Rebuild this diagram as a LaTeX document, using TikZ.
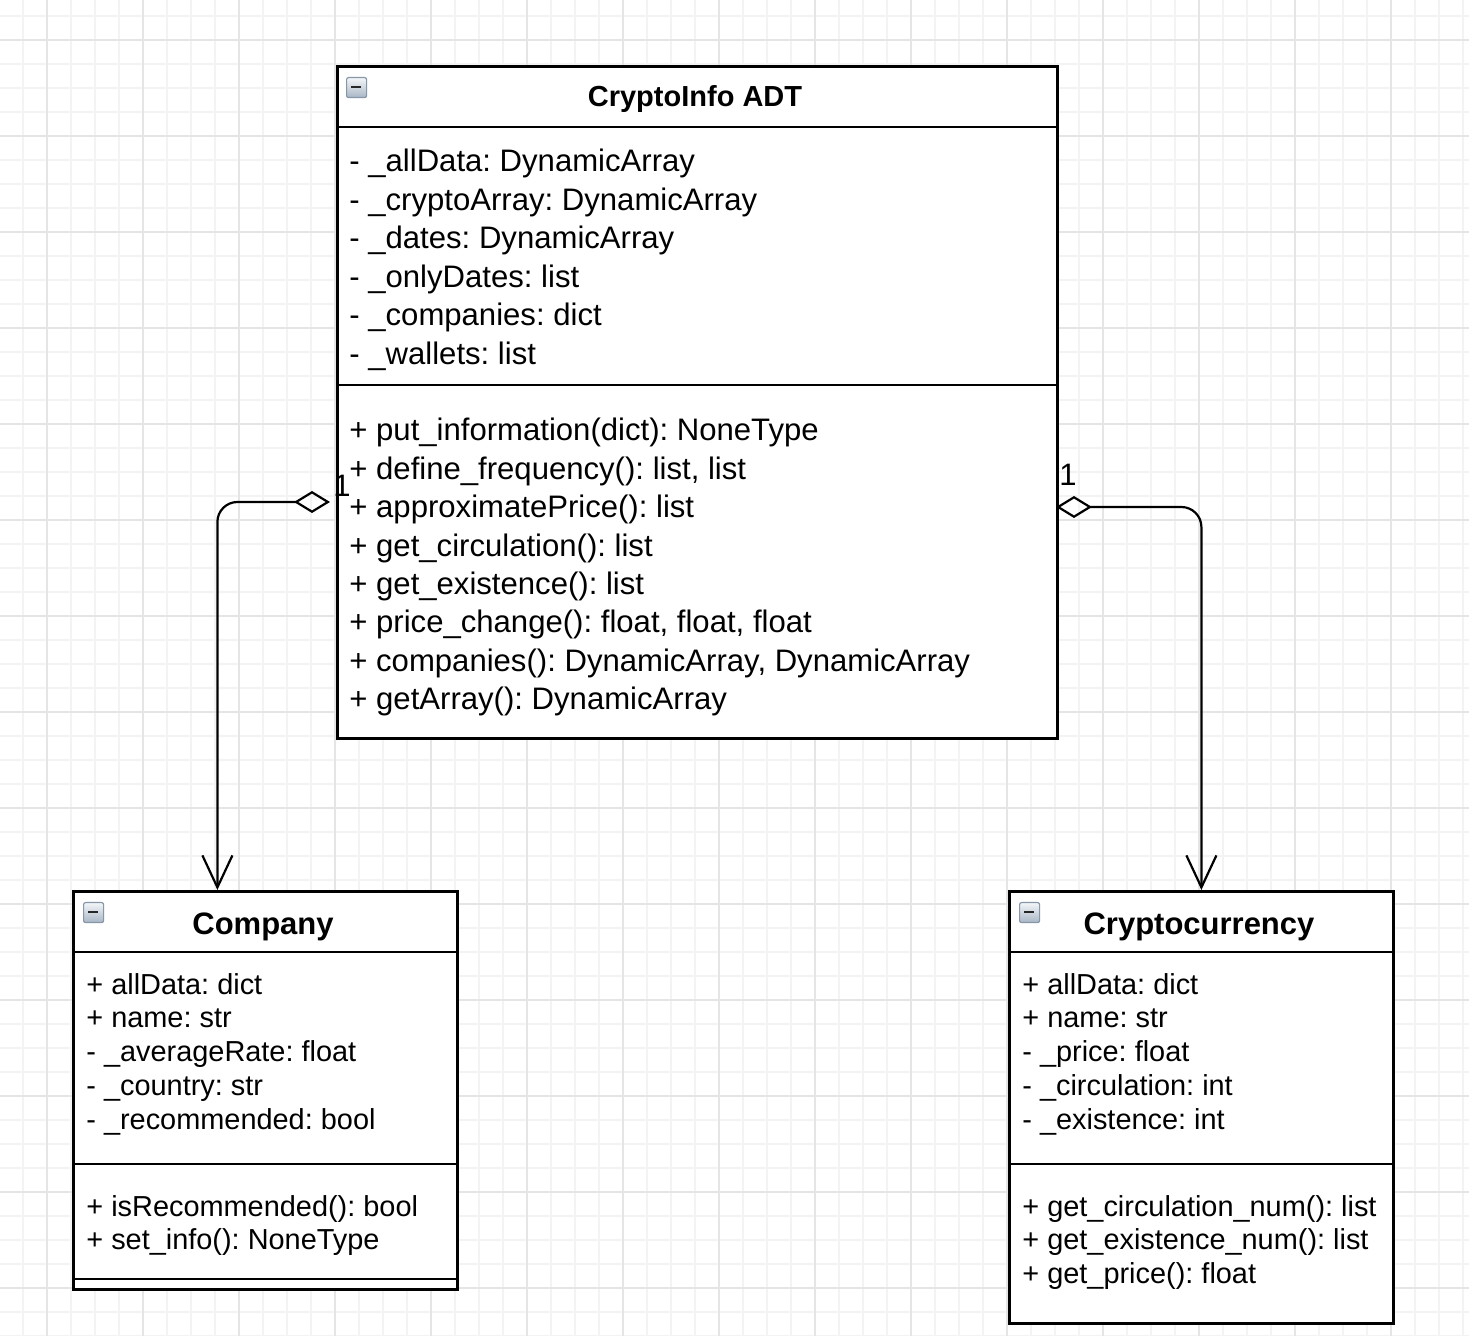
\documentclass[tikz,border=0pt]{standalone}
\usepackage{fontspec}
\setmainfont{Liberation Sans}
\usetikzlibrary{arrows.meta}
\frenchspacing
\definecolor{gridmin}{HTML}{F3F3F3}
\definecolor{gridmaj}{HTML}{E5E5E5}
\definecolor{icontop}{HTML}{F4F6F8}
\definecolor{iconbot}{HTML}{A8B6C6}
\definecolor{iconedge}{HTML}{8797A8}
\tikzset{
  gridminor/.style={draw=gridmin, line width=0.6pt},
  gridmajor/.style={draw=gridmaj, line width=0.8pt},
  umlbox/.style={draw, line width=1.4pt, fill=white, inner sep=0pt, anchor=north west},
  sepline/.style={line width=1.4pt},
  infotxt/.style={anchor=base west, inner sep=0pt, font=\fontsize{15.55pt}{18pt}\selectfont},
  smalltxt/.style={anchor=base west, inner sep=0pt, font=\fontsize{14.45pt}{17pt}\selectfont},
  infotitle/.style={anchor=base, inner sep=0pt, font=\fontsize{14.5pt}{17pt}\selectfont\bfseries},
  bigtitle/.style={anchor=base, inner sep=0pt, font=\fontsize{15.5pt}{18pt}\selectfont\bfseries},
  multlabel/.style={anchor=base, inner sep=0pt, font=\fontsize{15.5pt}{18pt}\selectfont},
  collapseicon/.style={draw=iconedge, line width=0.6pt, rounded corners=1pt, top color=icontop, bottom color=iconbot, minimum size=10pt, inner sep=0pt, anchor=north west},
  assoc/.style={line width=1.1pt, rounded corners=10pt, {Diamond[open,length=18pt,width=11pt]}-{Straight Barb[length=16pt,width=15pt]}}
}
\begin{document}
\begin{tikzpicture}[x=0.5pt,y=-0.5pt]
\useasboundingbox (0,0) rectangle (1469,1336);
\fill[white] (0,0) rectangle (1469,1336);
% grid
\foreach \i in {0,...,60} \draw[gridminor] ({23+24*\i},0) -- ({23+24*\i},1336);
\foreach \i in {0,...,55} \draw[gridminor] (0,{16+24*\i}) -- (1469,{16+24*\i});
\foreach \i in {0,...,14} \draw[gridmajor] ({47+96*\i},0) -- ({47+96*\i},1336);
\foreach \i in {0,...,13} \draw[gridmajor] (0,{40+96*\i}) -- (1469,{40+96*\i});

% CryptoInfo ADT box
\node[umlbox, minimum width=360pt, minimum height=336pt] (info) at (336,65) {};
\draw[sepline] (336,127) -- (1056,127);
\draw[sepline] (336,385) -- (1056,385);
\node[collapseicon] (infoicon) at (346,77) {};
\draw[line width=1.4pt, black!85] (351,87) -- (361,87);
\node[infotitle] (infotitle) at (695,107) {CryptoInfo ADT};
\foreach \t [count=\i] in {- \_allData: DynamicArray, - \_cryptoArray: DynamicArray, - \_dates: DynamicArray, - \_onlyDates: list, - \_companies: dict, - \_wallets: list}
  \node[infotxt] (ia\i) at (349,{172+38.5*(\i-1)}) {\t};
\foreach \t [count=\i] in {+ put\_information(dict): NoneType, {+ define\_frequency(): list, list}, + approximatePrice(): list, + get\_circulation(): list, + get\_existence(): list, {+ price\_change(): float, float, float}, {+ companies(): DynamicArray, DynamicArray}, + getArray(): DynamicArray}
  \node[infotxt] (im\i) at (349,{441+38.4*(\i-1)}) {\t};

% Company box
\node[umlbox, minimum width=192pt, minimum height=199pt] (company) at (72,890) {};
\draw[sepline] (72,952) -- (456,952);
\draw[sepline] (72,1164) -- (456,1164);
\draw[sepline] (72,1279) -- (456,1279);
\node[collapseicon] (compicon) at (83,902) {};
\draw[line width=1.4pt, black!85] (88,912) -- (98,912);
\node[bigtitle] (comptitle) at (263,935) {Company};
\foreach \t [count=\i] in {+ allData: dict, + name: str, - \_averageRate: float, - \_country: str, - \_recommended: bool}
  \node[smalltxt] (ca\i) at (86,{994+33.8*(\i-1)}) {\t};
\foreach \t [count=\i] in {+ isRecommended(): bool, + set\_info(): NoneType}
  \node[smalltxt] (cm\i) at (86,{1216+33.8*(\i-1)}) {\t};

% Cryptocurrency box
\node[umlbox, minimum width=192pt, minimum height=216pt] (crypto) at (1008,890) {};
\draw[sepline] (1008,952) -- (1392,952);
\draw[sepline] (1008,1164) -- (1392,1164);
\node[collapseicon] (cryicon) at (1019,902) {};
\draw[line width=1.4pt, black!85] (1024,912) -- (1034,912);
\node[bigtitle] (crytitle) at (1199,935) {Cryptocurrency};
\foreach \t [count=\i] in {+ allData: dict, + name: str, - \_price: float, - \_circulation: int, - \_existence: int}
  \node[smalltxt] (ra\i) at (1022,{994+33.8*(\i-1)}) {\t};
\foreach \t [count=\i] in {+ get\_circulation\_num(): list, + get\_existence\_num(): list, + get\_price(): float}
  \node[smalltxt] (rm\i) at (1022,{1216+33.8*(\i-1)}) {\t};

% associations
\coordinate (L1) at (330,502);
\coordinate (R1) at (1056,507);
\draw[assoc] (L1) -| ([xshift=-24pt]company.north);
\draw[assoc] (R1) -| (crypto.north);
\node[multlabel] (lmult) at (342,497) {1};
\node[multlabel] (rmult) at (1068,486) {1};
\end{tikzpicture}
\end{document}
